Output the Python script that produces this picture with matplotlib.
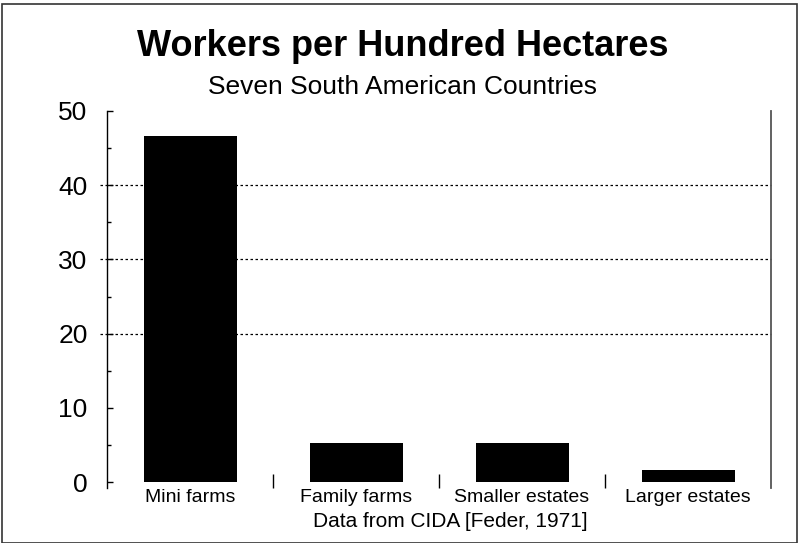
import matplotlib.pyplot as plt
from matplotlib.patches import Rectangle

plt.rcParams['font.family'] = ['Liberation Sans', 'DejaVu Sans']

# Datos
categorias = ["Mini farms", "Family farms", "Smaller estates", "Larger estates"]
trabajadores = [46.6, 5.3, 5.3, 1.6]
lineas_grid = [20, 30, 40]
y_ticks = [0, 10, 20, 30, 40, 50]

fig = plt.figure(figsize=(7.99, 5.43), dpi=100)
ax = fig.add_axes([0.134, 0.1013, 0.831, 0.6943])

x = range(len(categorias))
ax.bar(x, trabajadores, width=0.56, color="black", zorder=3)

ax.set_xlim(-0.5, len(categorias) - 0.5)
ax.set_ylim(-0.8, 50)

# lineas punteadas
for v in lineas_grid:
    ax.axhline(v, xmin=-0.011, xmax=1, color="black", lw=0.9,
               linestyle=(0, (2, 2)), clip_on=False, zorder=1)

# ejes
ax.spines["top"].set_visible(False)
ax.spines["bottom"].set_visible(False)
ax.spines["left"].set_color("black")
ax.spines["left"].set_linewidth(1)
ax.spines["right"].set_color("#555555")
ax.spines["right"].set_linewidth(1.3)

ax.set_yticks(y_ticks)
ax.set_yticks([5, 15, 25, 35, 45], minor=True)
ax.tick_params(axis="y", which="major", direction="in", length=4, width=1,
               labelsize=19, pad=14)
ax.tick_params(axis="y", which="minor", direction="in", length=3, width=1)
ax.tick_params(axis="y", right=False, which="both")

ax.set_xticks(list(x))
ax.set_xticklabels(categorias)
ax.set_xticks([0.5, 1.5, 2.5], minor=True)
ax.tick_params(axis="x", which="major", length=0, labelsize=14, pad=1)
ax.tick_params(axis="x", which="minor", direction="in", length=10, width=1)

fig.text(0.504, 0.915, "Workers per Hundred Hectares", ha="center", va="center",
         fontsize=26, fontweight="bold")
fig.text(0.504, 0.840, "Seven South American Countries", ha="center", va="center",
         fontsize=19)
fig.text(0.564, 0.040, "Data from CIDA [Feder, 1971]", ha="center", va="center",
         fontsize=15)

# marco
fig.patches.append(Rectangle((0.003, 0.0), 0.994, 0.993, transform=fig.transFigure,
                             fill=False, edgecolor="#333333", lw=1.2))

fig.savefig("out.png", dpi=100)
